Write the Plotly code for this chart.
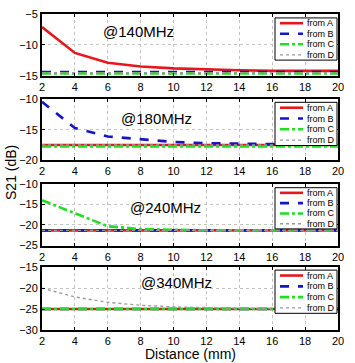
import plotly.graph_objects as go

distance = [2, 4, 6, 8, 10, 12, 14, 16, 18, 20]

# @140MHz
a140 = [-7.1, -11.3, -12.9, -13.5, -13.8, -14.0, -14.1, -14.2, -14.2, -14.2]
b140 = [-14.4, -14.4, -14.4, -14.4, -14.4, -14.4, -14.4, -14.4, -14.4, -14.4]
c140 = [-14.6, -14.6, -14.6, -14.6, -14.6, -14.6, -14.6, -14.6, -14.6, -14.6]
d140 = [-14.5, -14.5, -14.5, -14.5, -14.5, -14.5, -14.5, -14.5, -14.5, -14.5]
# @180MHz
a180 = [-17.5, -17.5, -17.5, -17.5, -17.5, -17.5, -17.5, -17.5, -17.5, -17.5]
b180 = [-10.4, -14.7, -16.1, -16.6, -17.0, -17.2, -17.3, -17.4, -17.5, -17.5]
c180 = [-17.75, -17.75, -17.75, -17.75, -17.75, -17.75, -17.75, -17.75, -17.75, -17.75]
d180 = [-17.5, -17.5, -17.5, -17.5, -17.5, -17.5, -17.5, -17.5, -17.5, -17.5]
# @240MHz
a240 = [-21.3, -21.3, -21.3, -21.3, -21.3, -21.3, -21.3, -21.3, -21.3, -21.3]
b240 = [-21.3, -21.3, -21.3, -21.3, -21.3, -21.3, -21.3, -21.3, -21.3, -21.3]
c240 = [-14.0, -17.2, -20.3, -21.0, -21.2, -21.3, -21.3, -21.3, -21.3, -21.3]
d240 = [-21.3, -21.3, -21.3, -21.3, -21.3, -21.3, -21.3, -21.3, -21.3, -21.3]
# @340MHz
a340 = [-25.0, -25.0, -25.0, -25.0, -25.0, -25.0, -25.0, -25.0, -25.0, -25.0]
b340 = [-25.0, -25.0, -25.0, -25.0, -25.0, -25.0, -25.0, -25.0, -25.0, -25.0]
c340 = [-25.0, -25.0, -25.0, -25.0, -25.0, -25.0, -25.0, -25.0, -25.0, -25.0]
d340 = [-20.0, -22.1, -23.4, -24.1, -24.5, -24.7, -24.8, -24.9, -25.0, -25.0]

panel_labels = ["@140MHz", "@180MHz", "@240MHz", "@340MHz"]
series_names = ["from A", "from B", "from C", "from D"]
y_ranges = [[-15, -5], [-20, -10], [-25, -10], [-30, -15]]
y_ticks = [[-15, -10, -5], [-20, -15, -10], [-25, -20, -15, -10], [-30, -25, -20, -15]]
x_ticks = [2, 4, 6, 8, 10, 12, 14, 16, 18, 20]

panels = [
    [a140, b140, c140, d140],
    [a180, b180, c180, d180],
    [a240, b240, c240, d240],
    [a340, b340, c340, d340],
]

styles = [
    dict(color="#e8161c", width=2.6, dash="solid"),
    dict(color="#1515c8", width=2.6, dash="dash"),
    dict(color="#22dd22", width=2.6, dash="dashdot"),
    dict(color="#9a9a9a", width=1.4, dash="dot"),
]

# pixel layout helpers
W, H = 355, 363
L, R, T, B = 42, 338, 8, 330
def px_x(p):
    return (p - L) / (R - L)
def px_y(p):
    return (B - p) / (B - T)

panel_px = [(8, 71), (95, 157), (181, 244), (266, 330)]
label_px = [(138, 26), (156, 114), (165, 205), (176, 282)]
legend_px = [(12, 55), (98, 142), (185, 227), (269, 313)]

fig = go.Figure()
layout = dict(
    width=W, height=H,
    margin=dict(l=L, r=W - R, t=T, b=H - B),
    paper_bgcolor="white", plot_bgcolor="white",
    showlegend=False,
    font=dict(family="Arial, Liberation Sans, sans-serif", size=11, color="black"),
)
shapes = []
annotations = []

for i, series in enumerate(panels):
    k = "" if i == 0 else str(i + 1)
    for j, ys in enumerate(series):
        fig.add_trace(go.Scatter(
            x=distance, y=ys, mode="lines", name=series_names[j],
            line=styles[j], xaxis="x" + k, yaxis="y" + k,
        ))
    top, bot = panel_px[i]
    layout["xaxis" + k] = dict(
        domain=[0, 1], anchor="y" + k, range=[2, 20], tickvals=x_ticks,
        showline=True, linecolor="black", linewidth=2, mirror="ticks",
        ticks="inside", ticklen=3, tickcolor="black",
        showgrid=True, gridcolor="#c4c4c4", griddash="dot", gridwidth=1,
        zeroline=False, tickfont=dict(size=11),
    )
    layout["yaxis" + k] = dict(
        domain=[px_y(bot), px_y(top)], anchor="x" + k, range=y_ranges[i],
        tickvals=y_ticks[i],
        showline=True, linecolor="black", linewidth=2, mirror="ticks",
        ticks="inside", ticklen=3, tickcolor="black",
        showgrid=True, gridcolor="#c4c4c4", griddash="dot", gridwidth=1,
        zeroline=False, tickfont=dict(size=11),
    )
    lx, ly = label_px[i]
    annotations.append(dict(
        text=panel_labels[i], xref="paper", yref="paper",
        x=px_x(lx), y=px_y(ly), showarrow=False,
        font=dict(size=15), xanchor="center", yanchor="middle",
    ))
    # legend box
    ltop, lbot = legend_px[i]
    shapes.append(dict(
        type="rect", xref="paper", yref="paper",
        x0=px_x(275), x1=px_x(337), y0=px_y(lbot), y1=px_y(ltop),
        line=dict(color="black", width=1), fillcolor="white", layer="above",
    ))
    step = (lbot - ltop) / 4
    for j in range(4):
        yy = ltop + step * (j + 0.5)
        shapes.append(dict(
            type="line", xref="paper", yref="paper",
            x0=px_x(280), x1=px_x(303), y0=px_y(yy), y1=px_y(yy),
            line=dict(color=styles[j]["color"], width=styles[j]["width"],
                      dash=styles[j]["dash"]),
            layer="above",
        ))
        annotations.append(dict(
            text=series_names[j], xref="paper", yref="paper",
            x=px_x(305), y=px_y(yy), showarrow=False,
            font=dict(size=9), xanchor="left", yanchor="middle",
        ))

annotations.append(dict(
    text="S21 (dB)", xref="paper", yref="paper", x=px_x(11), y=px_y(170),
    showarrow=False, textangle=-90, font=dict(size=14),
    xanchor="center", yanchor="middle",
))
annotations.append(dict(
    text="Distance (mm)", xref="paper", yref="paper", x=px_x(190), y=px_y(354.5),
    showarrow=False, font=dict(size=14), xanchor="center", yanchor="middle",
))

layout["shapes"] = shapes
layout["annotations"] = annotations
fig.update_layout(**layout)
fig.write_html(
    "out.html",
    config={"displayModeBar": False},
    post_script="document.body.style.margin='0';document.body.style.padding='0';",
)
